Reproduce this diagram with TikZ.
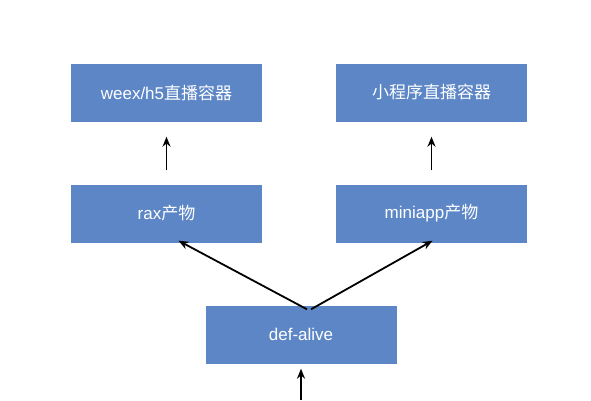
\documentclass[tikz,border=0pt]{standalone}
\usepackage{fontspec}
\setmainfont{Liberation Sans}
\newfontfamily\cjk{Noto Sans CJK SC}
\usetikzlibrary{arrows.meta}
\definecolor{boxblue}{RGB}{92,134,198}

\begin{document}
\begin{tikzpicture}[x=1pt,y=-1pt]
    \useasboundingbox (0,0) rectangle (591,400);
    \begin{scope}[every node/.style={rectangle,fill=boxblue,text=white,inner sep=0pt,
        minimum width=191pt,minimum height=58pt,font=\fontsize{17}{20}\selectfont}]
        \node (weex) at (166.5,92.5) {weex/h5{\cjk 直播容器}};
        \node (mini) at (431.5,92.5) {{\cjk 小程序直播容器}};
        \node (rax) at (166.5,213.5) {rax{\cjk 产物}};
        \node (miniapp) at (431.5,213.5) {miniapp{\cjk 产物}};
        \node (def) at (301,334.5) {def-alive};
    \end{scope}
    \coordinate (src) at (301,400);
    \begin{scope}[>={Stealth[black,length=10pt,width=8pt]},
        every edge/.style={draw=black,line width=1.8pt}]
        \path [->] (rax) edge[shorten <=14pt,shorten >=15pt] (weex);
        \path [->] (miniapp) edge[shorten <=14pt,shorten >=15pt] (mini);
        \path [->] ([xshift=6pt,yshift=-4pt]def.north) edge ([xshift=12pt,yshift=2pt]rax.south);
        \path [->] ([xshift=10pt,yshift=-4pt]def.north) edge ([xshift=1pt,yshift=2pt]miniapp.south);
        \path [->] (src) edge[shorten >=5pt] (def);
    \end{scope}
\end{tikzpicture}
\end{document}
